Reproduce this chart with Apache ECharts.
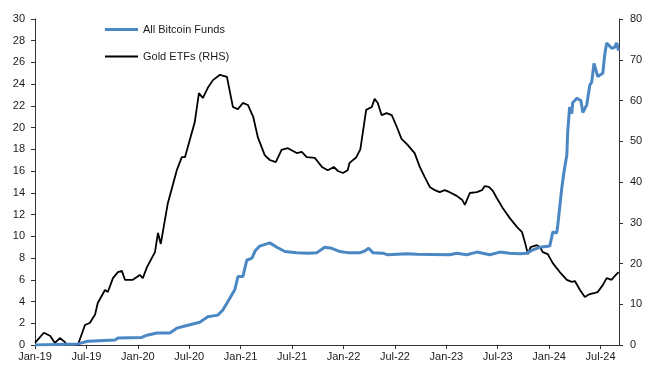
<!DOCTYPE html>
<html>
<head>
<meta charset="utf-8">
<script src="https://cdn.jsdelivr.net/npm/echarts@6/dist/echarts.min.js"></script>
<style>
  html, body { margin: 0; padding: 0; background: #fff; }
  #chart { width: 652px; height: 367px; }
</style>
</head>
<body>
<div id="chart"></div>
<script>
// Cumulative flows, $bn. Bitcoin funds on the left axis, gold ETFs on the right.
const seriesNames = ['All Bitcoin Funds', 'Gold ETFs (RHS)'];

const tickLabels = ['Jan-19', 'Jul-19', 'Jan-20', 'Jul-20', 'Jan-21', 'Jul-21',
                    'Jan-22', 'Jul-22', 'Jan-23', 'Jul-23', 'Jan-24', 'Jul-24'];

const btcDates = [
  '2019-01-01', '2019-06-01', '2019-07-06', '2019-10-11', '2019-10-22', '2020-01-15',
  '2020-02-03', '2020-03-08', '2020-04-23', '2020-05-18', '2020-06-23', '2020-08-08',
  '2020-09-06', '2020-10-11', '2020-10-29', '2020-11-23', '2020-12-11', '2020-12-22',
  '2021-01-09', '2021-01-23', '2021-02-10', '2021-02-21', '2021-03-08', '2021-04-13',
  '2021-05-08', '2021-06-06', '2021-07-18', '2021-08-27', '2021-09-28', '2021-10-26',
  '2021-11-20', '2021-12-19', '2022-01-16', '2022-02-28', '2022-03-16', '2022-03-30',
  '2022-04-14', '2022-05-19', '2022-06-06', '2022-08-13', '2022-09-18', '2023-01-13',
  '2023-02-07', '2023-03-13', '2023-04-18', '2023-06-03', '2023-07-09', '2023-08-13',
  '2023-09-18', '2023-10-13', '2023-11-04', '2023-11-29', '2024-01-03', '2024-01-10',
  '2024-01-14', '2024-01-28', '2024-02-01', '2024-02-15', '2024-02-22', '2024-03-03',
  '2024-03-06', '2024-03-13', '2024-03-21', '2024-03-24', '2024-04-08', '2024-04-22',
  '2024-04-29', '2024-05-13', '2024-05-24', '2024-05-31', '2024-06-08', '2024-06-15',
  '2024-06-21', '2024-07-09', '2024-07-16', '2024-07-23', '2024-07-30', '2024-08-10',
  '2024-08-21', '2024-08-28', '2024-09-04'
];
const btcFlows = [
  0.0, 0.1, 0.35, 0.45, 0.65, 0.7,
  0.9, 1.1, 1.1, 1.55, 1.8, 2.1,
  2.6, 2.75, 3.2, 4.3, 5.1, 6.3,
  6.3, 7.8, 8.0, 8.7, 9.1, 9.4,
  9.0, 8.6, 8.5, 8.45, 8.5, 9.0,
  8.9, 8.6, 8.5, 8.5, 8.65, 8.9,
  8.5, 8.45, 8.3, 8.4, 8.35, 8.3,
  8.45, 8.3, 8.55, 8.3, 8.55, 8.45,
  8.4, 8.45, 8.75, 9.0, 9.1, 9.9,
  10.4, 10.3, 11.0, 14.5, 15.9, 17.5,
  19.6, 21.9, 21.3, 22.3, 22.7, 22.5,
  21.4, 22.1, 23.9, 24.2, 25.9, 25.3,
  24.7, 25.0, 26.7, 27.8, 27.9, 27.3,
  27.4, 27.8, 27.1
];

const goldDates = [
  '2019-01-01', '2019-02-02', '2019-02-23', '2019-03-11', '2019-03-29', '2019-04-16',
  '2019-04-26', '2019-05-14', '2019-06-01', '2019-06-26', '2019-07-13', '2019-08-01',
  '2019-08-11', '2019-09-06', '2019-09-16', '2019-10-04', '2019-10-22', '2019-11-05',
  '2019-11-16', '2019-12-14', '2020-01-08', '2020-01-19', '2020-02-03', '2020-03-01',
  '2020-03-12', '2020-03-22', '2020-04-16', '2020-05-18', '2020-06-05', '2020-06-16',
  '2020-07-21', '2020-08-05', '2020-08-19', '2020-09-06', '2020-09-24', '2020-10-19',
  '2020-11-13', '2020-11-20', '2020-12-04', '2020-12-22', '2021-01-09', '2021-01-27',
  '2021-02-14', '2021-03-01', '2021-03-26', '2021-04-13', '2021-05-04', '2021-05-25',
  '2021-06-16', '2021-07-18', '2021-08-05', '2021-08-23', '2021-09-21', '2021-10-16',
  '2021-11-06', '2021-11-27', '2021-12-12', '2021-12-30', '2022-01-16', '2022-01-23',
  '2022-02-14', '2022-02-28', '2022-03-12', '2022-03-21', '2022-04-10', '2022-04-20',
  '2022-05-01', '2022-05-15', '2022-06-02', '2022-06-20', '2022-07-08', '2022-07-25',
  '2022-08-16', '2022-09-10', '2022-09-28', '2022-10-16', '2022-11-03', '2022-11-21',
  '2022-12-08', '2022-12-26', '2023-01-13', '2023-02-07', '2023-02-25', '2023-03-06',
  '2023-03-24', '2023-04-18', '2023-05-06', '2023-05-16', '2023-05-31', '2023-06-14',
  '2023-06-28', '2023-07-09', '2023-07-19', '2023-08-13', '2023-09-08', '2023-09-26',
  '2023-10-06', '2023-10-17', '2023-10-27', '2023-11-18', '2023-11-29', '2023-12-09',
  '2023-12-27', '2024-01-14', '2024-02-08', '2024-03-03', '2024-03-21', '2024-04-01',
  '2024-04-19', '2024-05-06', '2024-05-24', '2024-06-11', '2024-06-21', '2024-07-09',
  '2024-07-23', '2024-08-10', '2024-08-21', '2024-09-04'
];
const goldFlows = [
  0.5, 3.0, 2.2, 0.5, 1.7, 0.7,
  -0.3, -1.5, 0.0, 4.9, 5.4, 7.4,
  10.3, 13.5, 13.0, 16.4, 17.9, 18.2,
  16.0, 16.0, 17.2, 16.4, 19.1, 22.8,
  27.5, 24.8, 34.8, 42.9, 46.1, 46.1,
  54.7, 61.8, 60.6, 63.1, 65.0, 66.3,
  65.8, 63.3, 58.4, 57.9, 59.4, 58.9,
  56.0, 51.0, 46.6, 45.4, 44.9, 47.9,
  48.3, 47.1, 47.4, 46.1, 45.9, 43.7,
  42.9, 43.7, 42.7, 42.2, 42.9, 44.7,
  46.0, 48.0, 53.5, 57.7, 58.4, 60.4,
  59.4, 56.4, 56.9, 56.4, 53.5, 50.6,
  49.1, 47.1, 43.7, 41.2, 38.8, 38.0,
  37.5, 38.0, 37.5, 36.6, 35.6, 34.4,
  37.3, 37.5, 38.0, 39.0, 38.8, 37.8,
  36.0, 34.8, 33.6, 31.2, 29.0, 27.7,
  25.3, 22.3, 24.0, 24.5, 24.0, 22.8,
  22.3, 20.1, 17.9, 16.0, 15.5, 15.7,
  13.5, 11.8, 12.5, 12.8, 13.0, 14.7,
  16.4, 16.0, 16.9, 17.9
];

// x position measured in months since the start of 2019
function monthIndex(s) {
  const [y, m, d] = s.split('-').map(Number);
  const days = new Date(y, m, 0).getDate();
  return (y - 2019) * 12 + (m - 1) + (d - 1) / days;
}
const pairs = (dates, vals) => dates.map((d, i) => [monthIndex(d), vals[i]]);

const FONT = '"Liberation Sans", Arial, sans-serif';
const AXIS = '#333';
const TXT = '#1a1a1a';
const BLUE = '#4A87C3';

const chart = echarts.init(document.getElementById('chart'), null, { renderer: 'canvas' });
chart.setOption({
  animation: false,
  backgroundColor: '#fff',
  textStyle: { fontFamily: FONT },
  grid: { left: 35, right: 33, top: 19, bottom: 22, containLabel: false },
  legend: {
    orient: 'vertical',
    left: 105,
    top: 24,
    padding: 0,
    itemWidth: 33,
    itemHeight: 14,
    itemGap: 16,
    symbolKeepAspect: true,
    textStyle: { fontFamily: FONT, fontSize: 11, color: TXT },
    data: [
      { name: seriesNames[0], icon: 'path://M0,0L33,0L33,3L0,3Z', itemStyle: { color: BLUE } },
      { name: seriesNames[1], icon: 'path://M0,0L33,0L33,2L0,2Z', itemStyle: { color: '#000' } }
    ]
  },
  xAxis: {
    type: 'value',
    min: 0,
    max: 68.15,
    interval: 6,
    splitLine: { show: false },
    axisLine: { lineStyle: { color: AXIS, width: 1 } },
    axisTick: { length: 4, lineStyle: { color: AXIS } },
    axisLabel: {
      margin: 6,
      fontSize: 11,
      color: TXT,
      fontFamily: FONT,
      showMaxLabel: false,
      formatter: v => (Math.abs(v % 6) < 1e-6 && tickLabels[v / 6]) ? tickLabels[v / 6] : ''
    }
  },
  yAxis: [
    {
      type: 'value',
      min: 0, max: 30, interval: 2,
      splitLine: { show: false },
      axisLine: { show: true, lineStyle: { color: AXIS } },
      axisTick: { show: true, length: 4, lineStyle: { color: AXIS } },
      axisLabel: { margin: 10, fontSize: 11, color: TXT, fontFamily: FONT }
    },
    {
      type: 'value',
      position: 'right',
      min: 0, max: 80, interval: 10,
      splitLine: { show: false },
      axisLine: { show: true, lineStyle: { color: AXIS } },
      axisTick: { show: true, length: 4, lineStyle: { color: AXIS } },
      axisLabel: { margin: 11, fontSize: 11, color: TXT, fontFamily: FONT }
    }
  ],
  series: [
    {
      name: seriesNames[0],
      type: 'line',
      yAxisIndex: 0,
      symbol: 'none',
      clip: true,
      lineStyle: { color: BLUE, width: 3 },
      itemStyle: { color: BLUE },
      data: pairs(btcDates, btcFlows),
      z: 3
    },
    {
      name: seriesNames[1],
      type: 'line',
      yAxisIndex: 1,
      symbol: 'none',
      clip: true,
      lineStyle: { color: '#000', width: 1.8 },
      itemStyle: { color: '#000' },
      data: pairs(goldDates, goldFlows),
      z: 2
    }
  ]
});
</script>
</body>
</html>
